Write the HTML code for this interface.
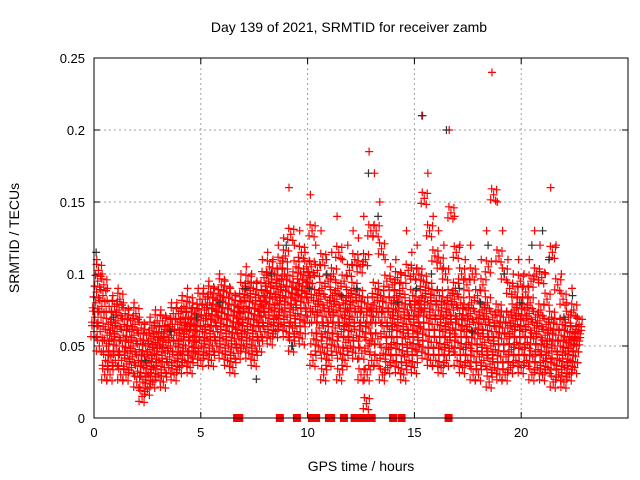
<!DOCTYPE html>
<html><head><meta charset="utf-8"><style>
body{margin:0;background:#fff}
svg{display:block;font-family:"Liberation Sans",sans-serif}
</style></head><body>
<svg id="chart" width="640" height="480" viewBox="0 0 640 480">
<text x="349" y="32" text-anchor="middle" font-size="14">Day 139 of 2021, SRMTID for receiver zamb</text>
<text x="361" y="471" text-anchor="middle" font-size="14">GPS time / hours</text>
<text transform="translate(19,238) rotate(-90)" text-anchor="middle" font-size="14">SRMTID / TECUs</text>
<g id="grid"></g><g id="ticks"></g><g id="marks"></g>
<rect x="94" y="58" width="534" height="360" fill="none" stroke="#000" stroke-width="1"/>
</svg>
<script>
const xTicks=[0,5,10,15,20];
const yTicks=[0,0.05,0.1,0.15,0.2,0.25];
const yTickLabels=["0","0.05","0.1","0.15","0.2","0.25"];
const times=[0,0.25,0.5,0.75,1,1.25,1.5,1.75,2,2.25,2.5,2.75,3,3.25,3.5,3.75,4,4.25,4.5,4.75,5,5.25,5.5,5.75,6,6.25,6.5,6.75,7,7.25,7.5,7.75,8,8.25,8.5,8.75,9,9.25,9.5,9.75,10,10.25,10.5,10.75,11,11.25,11.5,11.75,12,12.25,12.5,12.75,13,13.25,13.5,13.75,14,14.25,14.5,14.75,15,15.25,15.5,15.75,16,16.25,16.5,16.75,17,17.25,17.5,17.75,18,18.25,18.5,18.75,19,19.25,19.5,19.75,20,20.25,20.5,20.75,21,21.25,21.5,21.75,22,22.25,22.5];
const lowVals=[0.06,0.05,0.03,0.03,0.04,0.03,0.03,0.035,0.025,0.015,0.02,0.025,0.03,0.025,0.035,0.03,0.035,0.04,0.035,0.045,0.04,0.045,0.04,0.05,0.045,0.04,0.035,0.045,0.05,0.045,0.04,0.05,0.06,0.055,0.06,0.065,0.06,0.05,0.06,0.055,0.07,0.04,0.05,0.03,0.04,0.05,0.03,0.04,0.05,0.045,0.03,0.01,0.04,0.04,0.03,0.035,0.04,0.035,0.03,0.04,0.035,0.05,0.045,0.04,0.04,0.035,0.04,0.05,0.04,0.035,0.04,0.03,0.03,0.04,0.025,0.035,0.03,0.03,0.035,0.04,0.035,0.04,0.03,0.035,0.03,0.035,0.025,0.03,0.025,0.03,0.035];
const midA=[0.08,0.07,0.05,0.055,0.06,0.05,0.045,0.05,0.04,0.035,0.04,0.045,0.05,0.045,0.05,0.05,0.055,0.06,0.05,0.06,0.06,0.065,0.06,0.07,0.065,0.06,0.055,0.065,0.07,0.065,0.06,0.07,0.08,0.075,0.08,0.085,0.08,0.075,0.085,0.08,0.09,0.07,0.075,0.06,0.07,0.075,0.06,0.065,0.07,0.07,0.06,0.05,0.07,0.07,0.06,0.06,0.065,0.06,0.055,0.065,0.06,0.075,0.07,0.065,0.065,0.06,0.065,0.075,0.065,0.06,0.065,0.055,0.055,0.065,0.05,0.06,0.055,0.055,0.06,0.065,0.06,0.065,0.055,0.06,0.05,0.055,0.05,0.05,0.045,0.05,0.05];
const midB=[0.095,0.085,0.065,0.07,0.075,0.065,0.06,0.065,0.055,0.05,0.055,0.06,0.06,0.06,0.065,0.065,0.07,0.07,0.065,0.075,0.075,0.08,0.075,0.085,0.08,0.075,0.07,0.08,0.085,0.08,0.075,0.085,0.095,0.09,0.095,0.1,0.095,0.09,0.1,0.095,0.105,0.085,0.09,0.08,0.085,0.09,0.08,0.085,0.09,0.085,0.08,0.075,0.09,0.085,0.08,0.08,0.085,0.08,0.075,0.085,0.08,0.095,0.09,0.085,0.085,0.08,0.085,0.09,0.08,0.075,0.08,0.07,0.075,0.08,0.07,0.075,0.07,0.07,0.075,0.08,0.075,0.08,0.07,0.075,0.065,0.07,0.065,0.065,0.06,0.06,0.06];
const highVals=[0.11,0.1,0.09,0.085,0.09,0.08,0.075,0.08,0.07,0.065,0.07,0.075,0.075,0.07,0.08,0.08,0.085,0.09,0.08,0.09,0.09,0.095,0.09,0.1,0.095,0.09,0.085,0.1,0.105,0.1,0.095,0.11,0.115,0.11,0.12,0.125,0.16,0.12,0.13,0.115,0.155,0.12,0.13,0.11,0.115,0.14,0.11,0.12,0.13,0.125,0.14,0.185,0.17,0.15,0.11,0.105,0.11,0.1,0.13,0.115,0.12,0.21,0.17,0.14,0.13,0.12,0.2,0.14,0.12,0.11,0.12,0.1,0.11,0.13,0.24,0.15,0.13,0.11,0.1,0.11,0.1,0.11,0.13,0.12,0.1,0.16,0.12,0.1,0.08,0.09,0.07];
const blackTimes=[0.1,0.9,2.4,3.6,4.8,5.9,7.1,7.6,8.3,9.0,9.3,10.1,10.9,11.6,12.3,12.85,13.3,14.2,15.1,15.35,15.8,16.5,17.1,17.7,18.1,18.45,19.2,20.0,20.5,21.0,21.3,22.0,22.4];
const blackVals=[0.115,0.07,0.04,0.06,0.07,0.08,0.09,0.027,0.1,0.12,0.05,0.09,0.1,0.085,0.09,0.17,0.14,0.08,0.09,0.21,0.1,0.2,0.09,0.06,0.08,0.12,0.1,0.08,0.12,0.13,0.11,0.07,0.085];
const zeroTimes=[6.7,6.8,8.7,9.5,10.2,10.4,11.0,11.1,11.7,12.2,12.5,12.8,12.9,13.0,14.0,14.4,16.6];

const X0=94,X1=628,Y0=418,Y1=58,XMAX=25,YMAX=0.25;
const xs=v=>X0+(X1-X0)*v/XMAX;
const ys=v=>Y0-(Y0-Y1)*v/YMAX;
const NS="http://www.w3.org/2000/svg";
function mk(tag,parent,attrs){const e=document.createElementNS(NS,tag);for(const k in attrs)e.setAttribute(k,attrs[k]);parent.appendChild(e);return e;}
const grid=document.getElementById('grid'),ticks=document.getElementById('ticks'),marks=document.getElementById('marks');
xTicks.forEach((t,i)=>{const x=xs(t);
 if(t>0){const g=mk('line',grid,{x1:x,x2:x,y1:Y1,y2:Y0,stroke:'#a0a0a0','stroke-dasharray':'2,3'});
 
 }
 mk('line',ticks,{x1:x,x2:x,y1:Y0,y2:Y0-6,stroke:'#000'});mk('line',ticks,{x1:x,x2:x,y1:Y1,y2:Y1+6,stroke:'#000'});
 const l=mk('text',ticks,{x:x,y:Y0+19,'text-anchor':'middle','font-size':13});l.textContent=t;
 
 });
yTicks.forEach((t,i)=>{const y=ys(t);
 if(t>0&&t<YMAX){const g=mk('line',grid,{x1:X0,x2:X1,y1:y,y2:y,stroke:'#a0a0a0','stroke-dasharray':'2,3'});
 
 }
 mk('line',ticks,{x1:X0,x2:X0+6,y1:y,y2:y,stroke:'#000'});mk('line',ticks,{x1:X1,x2:X1-6,y1:y,y2:y,stroke:'#000'});
 const l=mk('text',ticks,{x:X0-9,y:y+5,'text-anchor':'end','font-size':13});l.textContent=yTickLabels[i];
 
 });
// each data point is drawn as a small cluster of '+' glyphs to mimic the dense original
const cluster=[[0,0],[3,-5],[-3,5],[2,6],[-2,-6]];
function plus(t,v,col,name,dense){const x=xs(t),y=ys(v);
 const offs=dense?cluster:[[0,0]];
 let d='';offs.forEach(o=>{d+=`M${x+o[0]-4},${y+o[1]}h8M${x+o[0]},${y+o[1]-4}v8`;});
 const p=mk('path',marks,{d:d,stroke:col,'stroke-width':1.2,fill:'none'});
 
 }
times.forEach((t,i)=>{
 plus(t,lowVals[i],'#f00','srmtid-point',true);
 plus(t+0.08,midA[i],'#f00','srmtid-point',true);
 plus(t+0.04,(lowVals[i]+midA[i])/2,'#f00','srmtid-point',true);
 plus(t+0.17,midB[i],'#f00','srmtid-point',true);
 plus(t+0.12,(midA[i]+midB[i])/2,'#f00','srmtid-point',true);
 plus(t+0.21,(midB[i]+highVals[i])/2,'#f00','srmtid-point',true);
 plus(t+0.13,highVals[i],'#f00','srmtid-point',false);});
blackTimes.forEach((t,i)=>plus(t,blackVals[i],'#333','srmtid-point-other',false));
zeroTimes.forEach(t=>{const r=mk('rect',marks,{x:xs(t)-4,y:Y0-4,width:8,height:8,fill:'#f00'});
 
 });
</script>
</body></html>
